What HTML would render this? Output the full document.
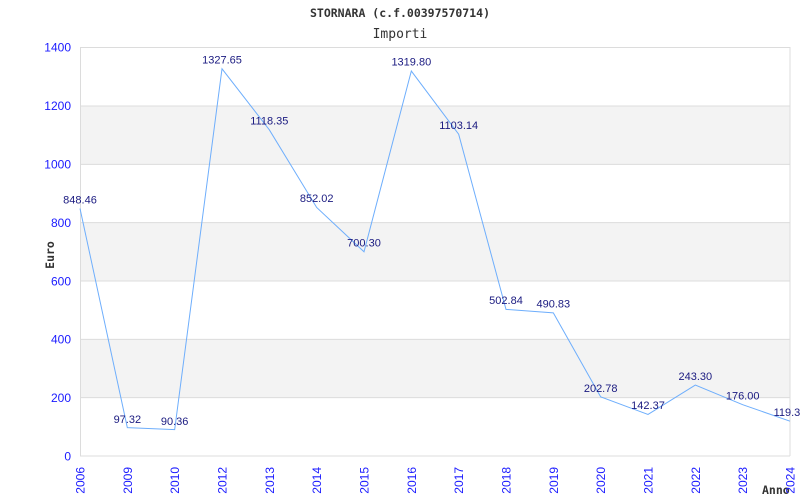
<!DOCTYPE html>
<html><head><meta charset="utf-8"><style>
html,body{margin:0;padding:0;background:#fff;}
svg{display:block;}
</style></head><body>
<svg width="800" height="500" viewBox="0 0 800 500" xmlns="http://www.w3.org/2000/svg">
<rect width="800" height="500" fill="#fff"/>
<text x="400" y="17" text-anchor="middle" font-family="DejaVu Sans Mono, Liberation Mono, monospace" font-weight="bold" font-size="11.5" fill="#333">STORNARA (c.f.00397570714)</text>
<text x="400" y="38" text-anchor="middle" font-family="DejaVu Sans Mono, Liberation Mono, monospace" font-size="13" fill="#333">Importi</text>
<g fill="#f3f3f3">
<rect x="80" y="106" width="710" height="58.33"/>
<rect x="80" y="222.67" width="710" height="58.33"/>
<rect x="80" y="339.33" width="710" height="58.33"/>
</g>
<g stroke="#dcdcdc" stroke-width="1">
<line x1="80" x2="790" y1="47.5" y2="47.5"/>
<line x1="80" x2="790" y1="106" y2="106"/>
<line x1="80" x2="790" y1="164.33" y2="164.33"/>
<line x1="80" x2="790" y1="222.67" y2="222.67"/>
<line x1="80" x2="790" y1="281" y2="281"/>
<line x1="80" x2="790" y1="339.33" y2="339.33"/>
<line x1="80" x2="790" y1="397.67" y2="397.67"/>
<line x1="80" x2="790" y1="456" y2="456"/>
<line x1="80.5" x2="80.5" y1="47" y2="456"/>
<line x1="790" x2="790" y1="47" y2="456"/>
</g>
<g font-family="Liberation Sans, sans-serif" font-size="12" fill="#1a1aff" text-anchor="end">
<text x="71" y="51.5">1400</text>
<text x="71" y="110">1200</text>
<text x="71" y="168.5">1000</text>
<text x="71" y="227">800</text>
<text x="71" y="285.5">600</text>
<text x="71" y="343.5">400</text>
<text x="71" y="402">200</text>
<text x="71" y="460.5">0</text>
</g>
<text transform="translate(54,255) rotate(-90)" text-anchor="middle" font-family="DejaVu Sans Mono, Liberation Mono, monospace" font-weight="bold" font-size="11.5" fill="#333">Euro</text>
<text x="762" y="494" font-family="DejaVu Sans Mono, Liberation Mono, monospace" font-weight="bold" font-size="11.5" fill="#333">Anno</text>
<g font-family="Liberation Sans, sans-serif" font-size="12" fill="#1a1aff" text-anchor="end">
<text transform="translate(84.5,467) rotate(-90)">2006</text>
<text transform="translate(131.8,467) rotate(-90)">2009</text>
<text transform="translate(179.2,467) rotate(-90)">2010</text>
<text transform="translate(226.5,467) rotate(-90)">2012</text>
<text transform="translate(273.8,467) rotate(-90)">2013</text>
<text transform="translate(321.2,467) rotate(-90)">2014</text>
<text transform="translate(368.5,467) rotate(-90)">2015</text>
<text transform="translate(415.8,467) rotate(-90)">2016</text>
<text transform="translate(463.2,467) rotate(-90)">2017</text>
<text transform="translate(510.5,467) rotate(-90)">2018</text>
<text transform="translate(557.8,467) rotate(-90)">2019</text>
<text transform="translate(605.2,467) rotate(-90)">2020</text>
<text transform="translate(652.5,467) rotate(-90)">2021</text>
<text transform="translate(699.8,467) rotate(-90)">2022</text>
<text transform="translate(747.2,467) rotate(-90)">2023</text>
<text transform="translate(794.5,467) rotate(-90)">2024</text>
</g>
<polyline fill="none" stroke="#6eaefc" stroke-width="1" points="80,208.53 127.33,427.62 174.67,429.65 222,68.77 269.33,129.81 316.67,207.49 364,251.75 411.33,71.06 458.67,134.25 506,309.34 553.33,312.84 600.67,396.86 648,414.48 695.33,385.04 742.67,404.67 790,421.19"/>
<g font-family="Liberation Sans, sans-serif" font-size="11" fill="#1a1a80" text-anchor="middle">
<text x="80" y="203.5">848.46</text>
<text x="127.33" y="423">97.32</text>
<text x="174.67" y="425">90.36</text>
<text x="222" y="63.5">1327.65</text>
<text x="269.33" y="124.5">1118.35</text>
<text x="316.67" y="202">852.02</text>
<text x="364" y="246.5">700.30</text>
<text x="411.33" y="65.5">1319.80</text>
<text x="458.67" y="129">1103.14</text>
<text x="506" y="304">502.84</text>
<text x="553.33" y="307.5">490.83</text>
<text x="600.67" y="392">202.78</text>
<text x="648" y="409">142.37</text>
<text x="695.33" y="380">243.30</text>
<text x="742.67" y="399.5">176.00</text>
<text x="790" y="416">119.34</text>
</g>
</svg>
</body></html>
